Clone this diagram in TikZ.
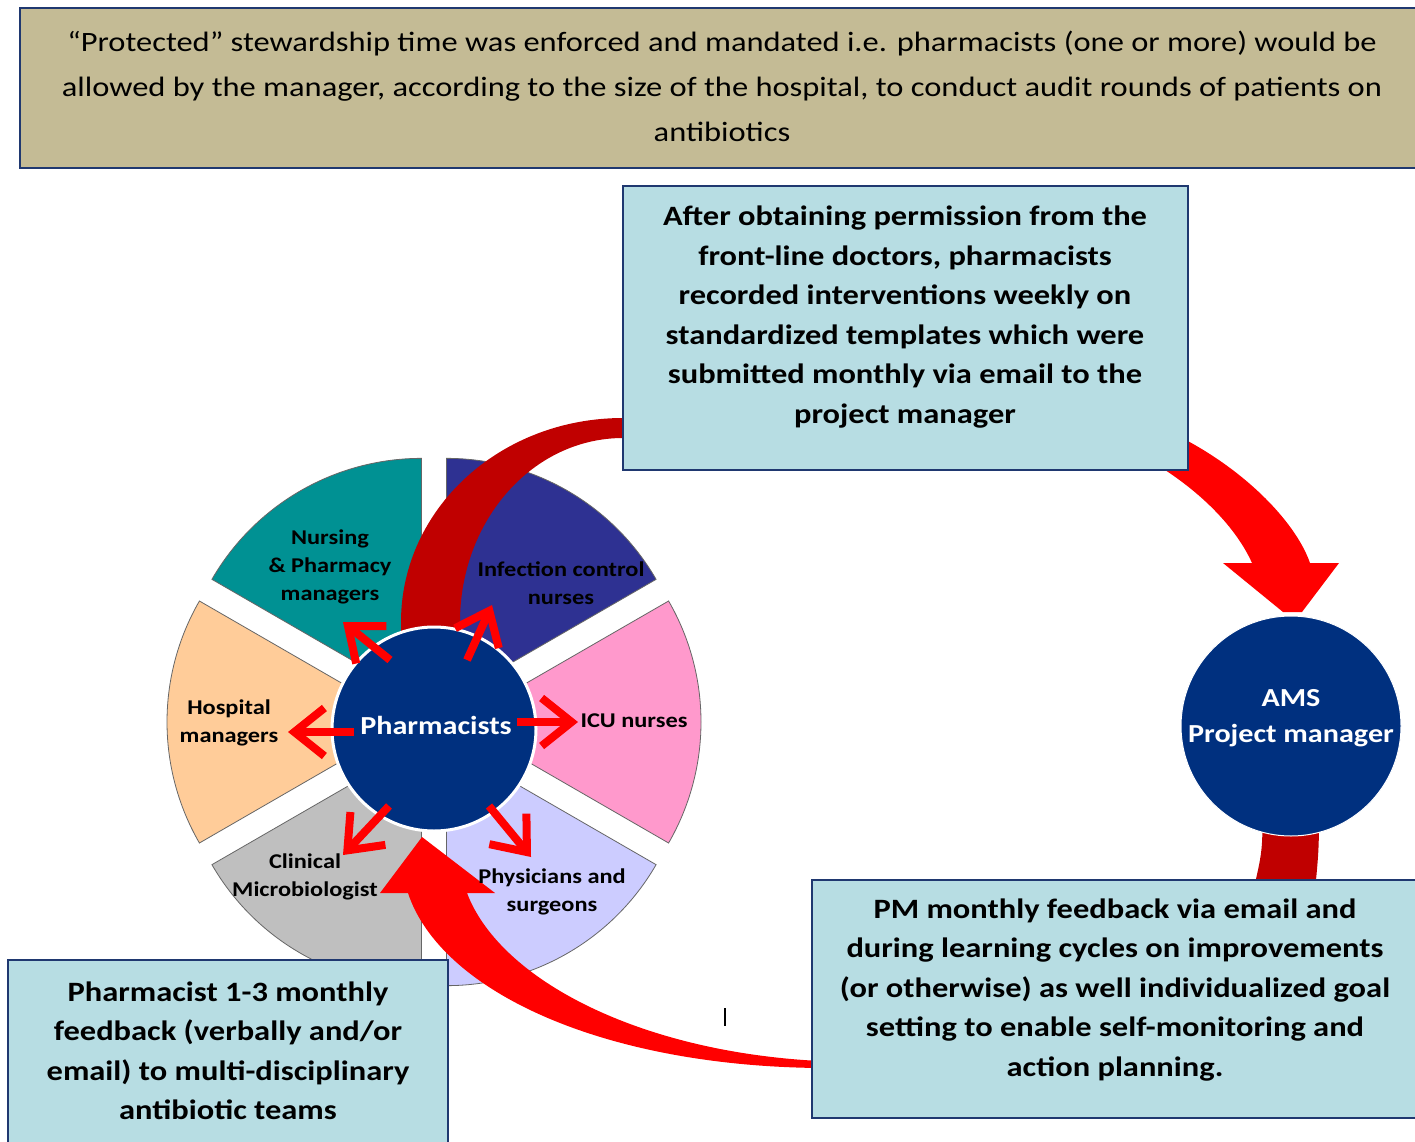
\documentclass[tikz,border=0pt]{standalone}
\usepackage{fontspec}
\setmainfont{Carlito}[FakeStretch=1.16]
\usetikzlibrary{arrows.meta}
\definecolor{khaki}{HTML}{C4BB95}
\definecolor{lightbox}{HTML}{B7DDE3}
\definecolor{boxline}{HTML}{1F3870}
\definecolor{navyC}{HTML}{00307F}
\definecolor{tealS}{HTML}{009193}
\definecolor{navyS}{HTML}{2E3192}
\definecolor{pinkS}{HTML}{FF99CC}
\definecolor{lavS}{HTML}{CCCCFF}
\definecolor{grayS}{HTML}{BFBFBF}
\definecolor{peachS}{HTML}{FFCC99}
\definecolor{darkred}{HTML}{C00000}
\definecolor{brightred}{HTML}{FF0000}
\begin{document}
\begin{tikzpicture}[x=1pt,y=-1pt,
  box/.style={draw=boxline,line width=1.5pt,fill=lightbox,rectangle,inner sep=0pt},
  btxt/.style={align=center,font=\fontsize{28}{39.5}\selectfont\bfseries,inner sep=0pt,text=black},
  wlab/.style={align=center,font=\fontsize{21}{28}\selectfont\bfseries,inner sep=0pt,text=black},
  ctxt/.style={align=center,font=\fontsize{26}{36}\selectfont\bfseries,inner sep=0pt,text=white},
  spoke/.style={draw=brightred,line width=8pt,-{Straight Barb[length=30pt,width=48pt]}},
  sector/.style={draw=black!60,line width=0.8pt}]
\useasboundingbox (0,0) rectangle (1415,1142);
\fill[white] (0,0) rectangle (1415,1142);

% top box
\node[box,fill=khaki,minimum width=1410pt,minimum height=160pt] (topbox) at (725,88) {};
\node[align=center,font=\fontsize{28}{45}\selectfont,inner sep=0pt] (topT) at (722,86)
 {“Protected” stewardship time was enforced and mandated i.e. pharmacists (one or more) would be\\
  allowed by the manager, according to the size of the hospital, to conduct audit rounds of patients on\\
  antibiotics};

% wheel
\begin{scope}[shift={(434,722)},yscale=-1]
\foreach \a/\c in {-30/pinkS,30/navyS,90/tealS,150/peachS,210/grayS,270/lavS}{
  \filldraw[sector,fill=\c] ({\a+30}:25) -- ++(\a:242) arc[start angle=\a,end angle=\a+60,radius=242] -- cycle;}
\end{scope}

% dark red band from middle box to pharmacists
\fill[darkred] (401,650) -- (401,622) .. controls (401,509) and (500,418) .. (623,418) -- (660,418) -- (660,438) -- (623,438) .. controls (533,438) and (460,520) .. (460,622) -- (460,650) -- cycle;

% pharmacists circle
\node[circle,fill=navyC,draw=white,line width=3pt,minimum size=204pt,inner sep=0pt] (pharm) at (434,729) {};
\node[ctxt] (pharmT) at (436,725) {Pharmacists};

% spokes
\coordinate (sN) at (390,660); \coordinate (tN) at (343,622);
\coordinate (sI) at (467,660); \coordinate (tI) at (492,605);
\coordinate (sH) at (354,732); \coordinate (tH) at (288,732);
\coordinate (sU) at (517,722); \coordinate (tU) at (578,722);
\coordinate (sC) at (389,806); \coordinate (tC) at (343,855);
\coordinate (sP) at (489,806); \coordinate (tP) at (531,857);
\foreach \s/\t in {sN/tN,sI/tI,sH/tH,sU/tU,sC/tC,sP/tP}
  \draw[spoke] (\s) -- (\t);

% bottom big red arrow
\fill[brightred] (820,1068) .. controls (600,1066) and (440,990) .. (408,893) -- (380,893) -- (422,837) -- (495,893) -- (467,893) .. controls (500,980) and (640,1052) .. (820,1061) -- cycle;

% top-right red arrow
\fill[brightred] (1140,455) .. controls (1195,485) and (1235,525) .. (1252,563) -- (1223,563) -- (1283,612) -- (1302,612) -- (1339,563) -- (1310,563) .. controls (1295,520) and (1240,465) .. (1170,432) -- cycle;

% middle box
\node[box,minimum width=565pt,minimum height=284pt] (midbox) at (905.5,328) {};
\node[btxt] (midT) at (905,317) {After obtaining permission from the\\front-line doctors, pharmacists\\recorded interventions weekly on\\standardized templates which were\\submitted monthly via email to the\\project manager};

% AMS band and circle
\fill[darkred] (1262,800) .. controls (1263,850) .. (1251,900) -- (1314,900) .. controls (1319,850) .. (1319,800) -- cycle;
\node[circle,fill=navyC,draw=white,line width=1pt,minimum size=220pt,inner sep=0pt] (ams) at (1291,726) {};
\node[ctxt] (amsT) at (1291,718) {AMS\\Project manager};

% bottom boxes
\node[box,minimum width=618pt,minimum height=238pt] (brbox) at (1121,999) {};
\node[btxt] (brT) at (1115,990) {PM monthly feedback via email and\\during learning cycles on improvements\\(or otherwise) as well individualized goal\\setting to enable self-monitoring and\\action planning.};
\node[box,minimum width=440pt,minimum height=200pt] (blbox) at (228,1060) {};
\node[btxt] (blT) at (228,1051) {Pharmacist 1-3 monthly\\feedback (verbally and/or\\email) to multi-disciplinary\\antibiotic teams};

% wheel labels
\node[wlab] (nursT) at (330,567) {Nursing\\\& Pharmacy\\managers};
\node[wlab] (infT) at (561,583) {Infection control\\nurses};
\node[wlab] (hospT) at (229,723) {Hospital\\managers};
\node[wlab] (icuT) at (634,721) {ICU nurses};
\node[wlab] (clinT) at (305,877) {Clinical\\Microbiologist};
\node[wlab] (physT) at (552,892) {Physicians and\\surgeons};

% cursor mark
\coordinate (cur1) at (725,1008); \coordinate (cur2) at (725,1026);
\draw[black,line width=1.3pt] (cur1) -- (cur2);
\end{tikzpicture}
\end{document}
